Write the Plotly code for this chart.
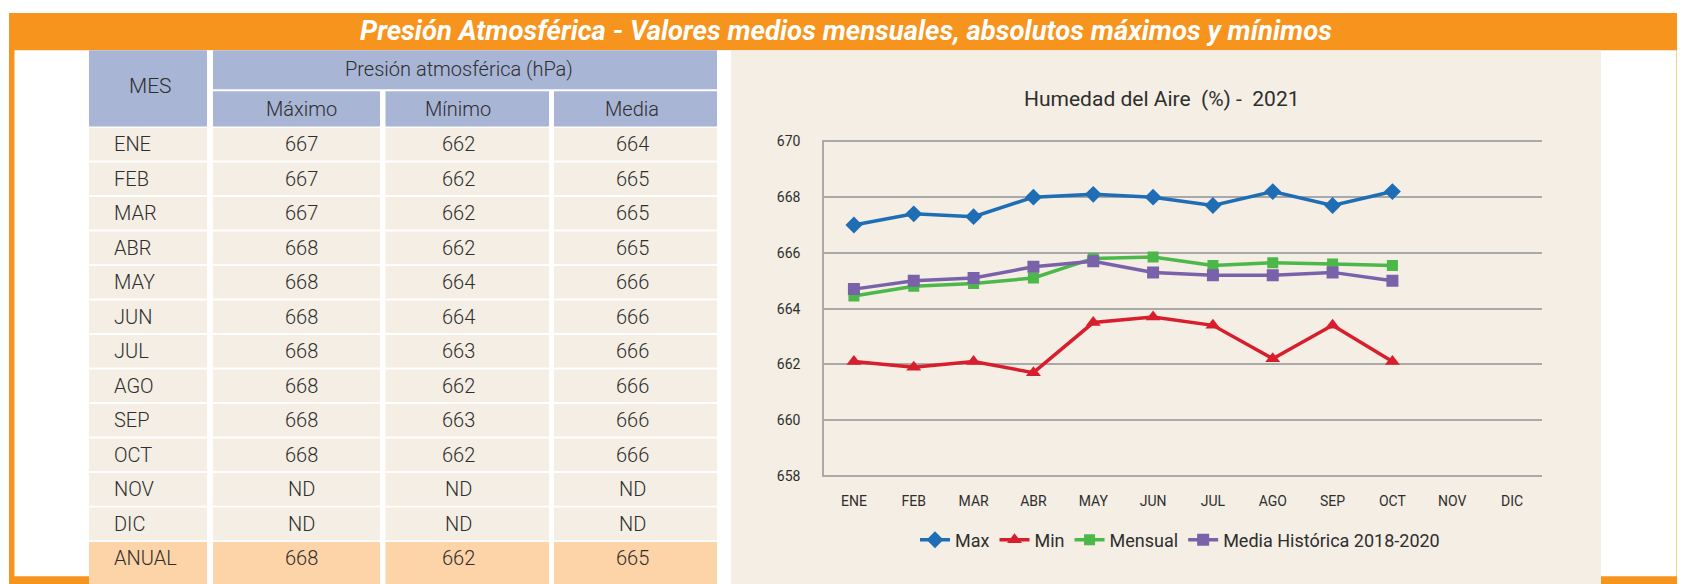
import plotly.graph_objects as go

# --- datos de la tabla ---
meses = ["ENE", "FEB", "MAR", "ABR", "MAY", "JUN", "JUL", "AGO", "SEP", "OCT", "NOV", "DIC"]
tabla_maximo = ["667", "667", "667", "668", "668", "668", "668", "668", "668", "668", "ND", "ND"]
tabla_minimo = ["662", "662", "662", "662", "664", "664", "663", "662", "663", "662", "ND", "ND"]
tabla_media = ["664", "665", "665", "665", "666", "666", "666", "666", "666", "666", "ND", "ND"]
anual = ["668", "662", "665"]

# --- series del grafico (hPa) ---
serie_max = [667.0, 667.4, 667.3, 668.0, 668.1, 668.0, 667.7, 668.2, 667.7, 668.2, None, None]
serie_min = [662.1, 661.9, 662.1, 661.7, 663.5, 663.7, 663.4, 662.2, 663.4, 662.1, None, None]
serie_mensual = [664.45, 664.8, 664.9, 665.1, 665.8, 665.85, 665.55, 665.65, 665.6, 665.55, None, None]
serie_historica = [664.7, 665.0, 665.1, 665.5, 665.7, 665.3, 665.2, 665.2, 665.3, 665.0, None, None]

W, H = 1685, 584
OFF = 8  # la pagina desplaza la figura 8px (margen del body)
ORANGE = "#F7941D"
HEADER = "#A8B5D5"
BEIGE = "#F4EEE4"
ANUAL_BG = "#FDD4A8"
TEXT = "#2E2E2E"
FONT = "Roboto, Liberation Sans, sans-serif"


def px(x):
    return (x - OFF) / W


def py(y):
    return 1 - (y - OFF) / H


def rect(x0, y0, x1, y1, color):
    return dict(type="rect", xref="paper", yref="paper", layer="below",
                x0=px(x0), x1=px(x1), y0=py(y1), y1=py(y0),
                fillcolor=color, line_width=0)


def label(text, x, y, size, anchor="center", color=TEXT, **font):
    return dict(text=text, x=px(x), y=py(y), xref="paper", yref="paper",
                xanchor=anchor, yanchor="middle", showarrow=False,
                font=dict(family=FONT, size=size, color=color, **font))


shapes = []
annotations = []

# marco naranja y fondo
shapes.append(rect(9, 6, 1681, 592, ORANGE))
shapes.append(rect(14.5, 44, 1676.5, 582, "white"))
shapes.append(rect(89, 44, 731, 592, "white"))
shapes.append(rect(731, 44, 1601, 592, BEIGE))
annotations.append(label("Presión Atmosférica - Valores medios mensuales, absolutos máximos y mínimos",
                         846, 24, 27.5, color="white", style="italic", weight="bold"))

# tabla: columnas (x0, x1) y centro del texto
cols = [(89, 207), (213, 380), (385.5, 549), (554, 717)]
text_x = [112, 301, 458, 632]

# cabecera
shapes.append(rect(89, 44, 207, 122, HEADER))
shapes.append(rect(213, 44, 717, 84, HEADER))
for x0, x1 in cols[1:]:
    shapes.append(rect(x0, 86, x1, 122, HEADER))
annotations.append(label("MES", 150, 81, 21, weight=300))
annotations.append(label("Presión atmosférica (hPa)", 459, 63, 20, weight=300))
for name, x in zip(["Máximo", "Mínimo", "Media"], text_x[1:]):
    annotations.append(label(name, x, 104, 20, weight=300))

# filas
row_h = 35.3
rows = [[m, a, b, c] for m, a, b, c in zip(meses, tabla_maximo, tabla_minimo, tabla_media)]
rows.append(["ANUAL"] + anual)
for i, row in enumerate(rows):
    top = 121.5 + i * row_h + 2
    bottom = 121.5 + (i + 1) * row_h
    fill = BEIGE
    if i == len(rows) - 1:
        bottom = 592
        fill = ANUAL_BG
    for (x0, x1), tx, val in zip(cols, text_x, row):
        shapes.append(rect(x0, top, x1, bottom, fill))
        annotations.append(label(val, tx, 121.5 + (i + 0.5) * row_h + 1, 20,
                                 anchor="left" if tx == text_x[0] else "center",
                                 weight=300))

# titulo del grafico
annotations.append(label("Humedad del Aire  (%) -  2021", 1162, 94, 21))

fig = go.Figure()
series = [
    ("Max", serie_max, "#1F6DB5", "diamond", 13),
    ("Min", serie_min, "#D81E2C", "triangle-up", 13),
    ("Mensual", serie_mensual, "#4CB84A", "square", 11),
    ("Media Histórica 2018-2020", serie_historica, "#7A62AA", "square", 12),
]
for name, vals, color, sym, size in series:
    fig.add_trace(go.Scatter(
        x=meses, y=vals, name=name, mode="lines+markers",
        line=dict(color=color, width=3.5),
        marker=dict(symbol=sym, size=size, color=color),
    ))

# eje y: 28.5 px por hPa, 658 en y=479.3 y 670 en y=137.3 (con un pequeno margen)
y_lo, y_hi, pad = 658, 670, 0.05
unit = (479.3 - 137.3) / (y_hi - y_lo)

GRID = "#A9A9A9"
fig.update_layout(
    width=W, height=H,
    margin=dict(l=0, r=0, t=0, b=0),
    paper_bgcolor="white",
    plot_bgcolor="rgba(0,0,0,0)",
    shapes=shapes,
    annotations=annotations,
    font=dict(family=FONT, color=TEXT),
    xaxis=dict(domain=[px(824), px(1542)], type="category", categoryarray=meses,
               range=[-0.5, 11.5], showgrid=False, showline=False,
               ticks="outside", ticklen=11, tickcolor="rgba(0,0,0,0)",
               tickfont=dict(size=14, color=TEXT), fixedrange=True),
    yaxis=dict(domain=[py(479.3 + pad * unit), py(137.3 - pad * unit)],
               range=[y_lo - pad, y_hi + pad], dtick=2,
               showgrid=True, gridcolor=GRID, gridwidth=1.5, zeroline=False,
               showline=True, linecolor=GRID, linewidth=1.5,
               ticks="outside", ticklen=19, tickcolor="rgba(0,0,0,0)",
               tickfont=dict(size=14, color=TEXT)),
    legend=dict(orientation="h", x=px(1180), y=py(545), xanchor="center", yanchor="middle",
                font=dict(size=18, color=TEXT), bgcolor="rgba(0,0,0,0)"),
)

fig.write_html("out.html")
